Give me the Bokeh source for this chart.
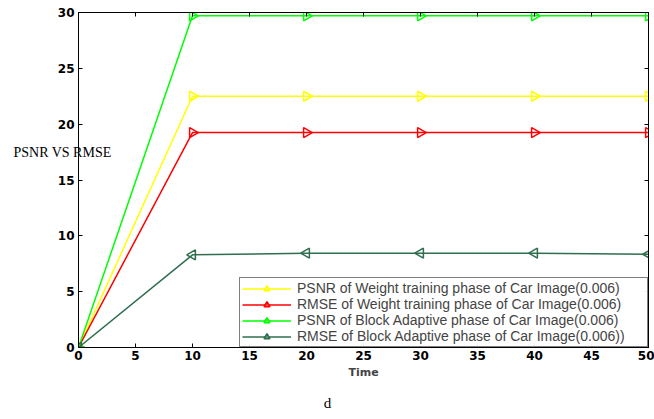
import numpy as np
from bokeh.plotting import figure
from bokeh.models import (Range1d, LinearAxis, Legend, LegendItem, FixedTicker,
                          CustomJSTickFormatter)
from bokeh.embed import file_html
from bokeh.resources import INLINE

time = [0, 10, 20, 30, 40, 50]
psnr_weight = [0, 22.5, 22.5, 22.5, 22.5, 22.5]
rmse_weight = [0, 19.25, 19.25, 19.25, 19.25, 19.25]
psnr_block = [0, 29.7, 29.7, 29.7, 29.7, 29.7]
rmse_block = [0, 8.3, 8.45, 8.45, 8.45, 8.35]

names = ["PSNR of Weight training phase of Car Image(0.006)",
         "RMSE of Weight training phase of Car Image(0.006)",
         "PSNR of Block Adaptive phase of Car Image(0.006)",
         "RMSE of Block Adaptive phase of Car Image(0.006))"]
colors = ["#ffff00", "#ff0000", "#00ff00", "#2f6f4f"]
angles = [-np.pi/2, -np.pi/2, -np.pi/2, np.pi/2]
series = [psnr_weight, rmse_weight, psnr_block, rmse_block]

y_title = "PSNR VS RMSE"
caption = "d"

p = figure(width=654, height=419, output_backend="svg", toolbar_location=None,
           x_range=Range1d(0, 50), y_range=Range1d(0, 30),
           min_border_left=78, min_border_right=6, min_border_top=12, min_border_bottom=72)
p.grid.visible = False
p.outline_line_color = "black"
p.background_fill_color = "white"
p.border_fill_color = "white"

xt = FixedTicker(ticks=list(range(0, 51, 5)))
yt = FixedTicker(ticks=list(range(0, 31, 5)))
p.xaxis.ticker = xt
p.yaxis.ticker = yt
for ax in [p.xaxis[0], p.yaxis[0]]:
    ax.major_tick_in = 4
    ax.major_tick_out = 0
    ax.minor_tick_line_color = None
    ax.axis_line_color = "black"
    ax.major_label_text_font = "DejaVu Sans"
    ax.major_label_text_font_style = "bold"
    ax.major_label_text_font_size = "12px"
    ax.major_label_text_color = "black"
p.xaxis.major_label_standoff = 3
p.yaxis.major_label_standoff = 4
p.xaxis.axis_label = "Time"
p.xaxis.axis_label_text_font = "DejaVu Sans"
p.xaxis.axis_label_text_font_style = "bold"
p.xaxis.axis_label_text_font_size = "11px"
p.xaxis.axis_label_standoff = 3

blank = CustomJSTickFormatter(code="return ''")
top = LinearAxis(ticker=xt, formatter=blank, major_tick_in=4, major_tick_out=0,
                 minor_tick_line_color=None)
right = LinearAxis(ticker=yt, formatter=blank, major_tick_in=4, major_tick_out=0,
                   minor_tick_line_color=None)
p.add_layout(top, "above")
p.add_layout(right, "right")

# horizontal y-title: single tick label of an outer, unlined axis
ylab_axis = LinearAxis(ticker=FixedTicker(ticks=[17.5]),
                       major_label_overrides={17.5: y_title},
                       axis_line_color=None, major_tick_line_color=None,
                       minor_tick_line_color=None, major_tick_in=0, major_tick_out=0,
                       major_label_standoff=-57, major_label_text_font="Liberation Serif",
                       major_label_text_font_size="14px", major_label_text_color="black")
p.add_layout(ylab_axis, "left")

# caption below the plot
cap_axis = LinearAxis(ticker=FixedTicker(ticks=[21.84]),
                      major_label_overrides={21.84: caption},
                      axis_line_color=None, major_tick_line_color=None,
                      minor_tick_line_color=None, major_tick_in=0, major_tick_out=0,
                      major_label_standoff=13, major_label_text_font="Liberation Serif",
                      major_label_text_font_size="15px", major_label_text_color="black")
p.add_layout(cap_axis, "below")

items = []
for name, c, a, s in zip(names, colors, angles, series):
    r1 = p.line(time, s, line_color=c, line_width=1.5)
    r2 = p.scatter(time, s, marker="triangle", angle=a, size=10, line_color=c, fill_color=None,
                   line_width=1.5)
    items.append(LegendItem(label=name, renderers=[r1, r2]))

leg = Legend(items=items, location="bottom_right", label_text_font="Liberation Sans",
             label_text_font_size="14px", border_line_color="black", border_line_width=1,
             spacing=-1, padding=2, margin=0, glyph_height=15, label_height=15,
             label_standoff=6, glyph_width=49, label_width=348)
p.add_layout(leg)

open("out.html", "w").write(file_html(p, INLINE))
